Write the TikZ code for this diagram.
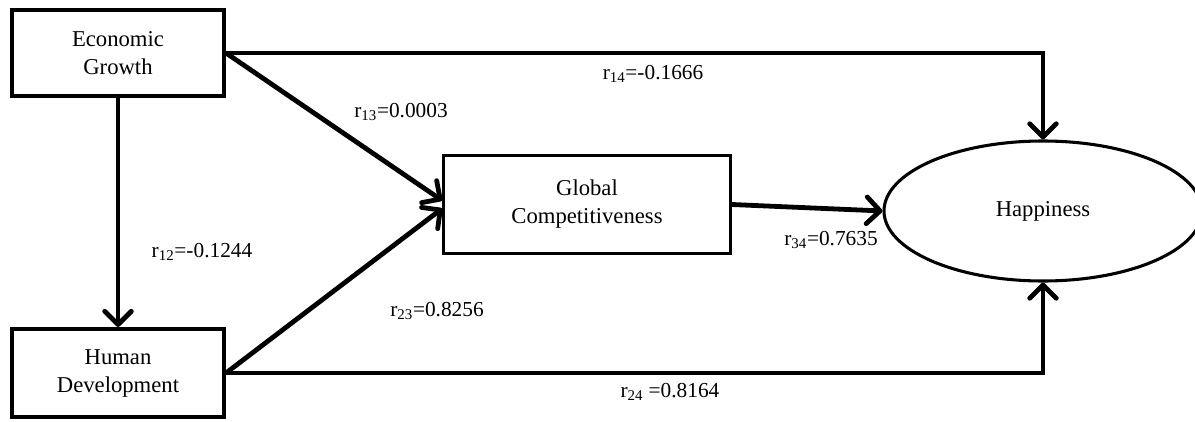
\documentclass[tikz,border=0pt]{standalone}
\usepackage{fontspec}
\setmainfont{Liberation Serif}
\usetikzlibrary{arrows.meta,shapes.geometric}

\begin{document}
\begin{tikzpicture}[x=0.75pt,y=-0.75pt]
    \tikzset{
        varbox/.style={draw, line width=3pt, inner sep=0pt, align=center,
            font=\fontsize{17}{21}\selectfont},
        link/.style={line width=3.6pt,
            -{Straight Barb[length=10pt,width=20pt,line cap=round,line join=round]}},
        coef/.style={inner sep=0pt, font=\fontsize{16}{19}\selectfont}
    }
    \useasboundingbox (0,0) rectangle (1195,421);

    % variables
    \node[varbox, minimum width=159pt, minimum height=64pt] (EG) at (118,53) {Economic\\Growth};
    \node[varbox, minimum width=159pt, minimum height=66pt] (HD) at (118,373) {Human\\Development};
    \node[varbox, line width=2.3pt, minimum width=215pt, minimum height=73.5pt] (GC) at (587,204.5) {Global\\Competitiveness};
    \node[ellipse, draw, line width=2.3pt, inner sep=0pt, minimum width=238.5pt, minimum height=105pt,
        font=\fontsize{17}{21}\selectfont] (H) at (1043,211) {Happiness};

    % paths
    \draw[link] (EG.east) -| (H.north);
    \draw[link] (EG.south) -- (HD.north);
    \draw[link] (EG.east) -- ([yshift=3pt]GC.west);
    \draw[link] (HD.east) -- ([yshift=-3pt]GC.west);
    \draw[link] (GC.east) -- (H.west);
    \draw[link] (HD.east) -| (H.south);

    % coefficients
    \node[coef] (r14) at (653,74) {r\textsubscript{14}=-0.1666};
    \node[coef] (r13) at (401,112) {r\textsubscript{13}=0.0003};
    \node[coef] (r12) at (202,252) {r\textsubscript{12}=-0.1244};
    \node[coef] (r23) at (437,311) {r\textsubscript{23}=0.8256};
    \node[coef] (r34) at (831,240) {r\textsubscript{34}=0.7635};
    \node[coef] (r24) at (670,392) {r\textsubscript{24} =0.8164};
\end{tikzpicture}
\end{document}
